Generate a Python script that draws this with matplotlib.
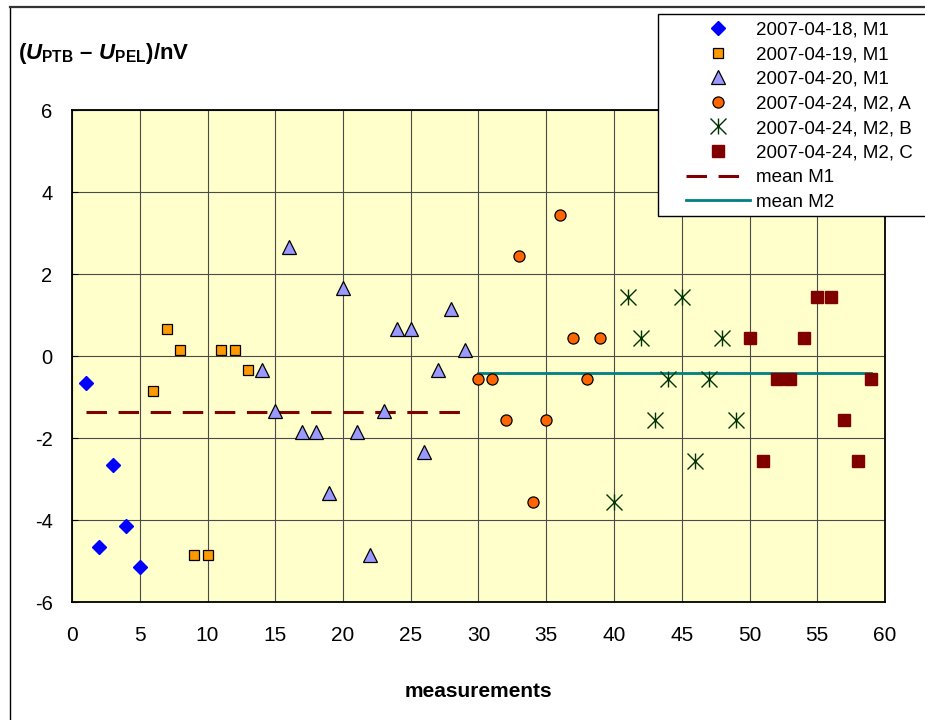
"""Voltage difference PTB vs PEL per measurement, with mean lines."""
import numpy as np
import matplotlib
matplotlib.use("Agg")
import matplotlib.pyplot as plt
from matplotlib.path import Path
from matplotlib.patches import Rectangle
from matplotlib.lines import Line2D

plt.rcParams["font.family"] = ["Liberation Sans", "DejaVu Sans"]
plt.rcParams["axes.unicode_minus"] = False
plt.rcParams["mathtext.fontset"] = "custom"
plt.rcParams["mathtext.rm"] = "Liberation Sans:bold"
plt.rcParams["mathtext.bf"] = "Liberation Sans:bold"
plt.rcParams["mathtext.it"] = "Liberation Sans:italic:bold"

# data (nV)
x_0418 = [1, 2, 3, 4, 5]
y_0418 = [-0.65, -4.65, -2.65, -4.15, -5.15]
x_0419 = [6, 7, 8, 9, 10, 11, 12, 13]
y_0419 = [-0.85, 0.65, 0.15, -4.85, -4.85, 0.15, 0.15, -0.35]
x_0420 = list(range(14, 30))
y_0420 = [-0.35, -1.35, 2.65, -1.85, -1.85, -3.35, 1.65, -1.85,
          -4.85, -1.35, 0.65, 0.65, -2.35, -0.35, 1.15, 0.15]
x_m2a = list(range(30, 40))
y_m2a = [-0.55, -0.55, -1.55, 2.45, -3.55, -1.55, 3.45, 0.45, -0.55, 0.45]
x_m2b = list(range(40, 50))
y_m2b = [-3.55, 1.45, 0.45, -1.55, -0.55, 1.45, -2.55, -0.55, 0.45, -1.55]
x_m2c = list(range(50, 60))
y_m2c = [0.45, -2.55, -0.55, -0.55, 0.45, 1.45, 1.45, -1.55, -2.55, -0.55]

labels = ["2007-04-18, M1", "2007-04-19, M1", "2007-04-20, M1",
          "2007-04-24, M2, A", "2007-04-24, M2, B", "2007-04-24, M2, C"]

x_m1 = x_0418 + x_0419 + x_0420
y_m1 = y_0418 + y_0419 + y_0420
x_m2 = x_m2a + x_m2b + x_m2c
y_m2 = y_m2a + y_m2b + y_m2c
mean_m1 = np.mean(y_m1)
mean_m2 = np.mean(y_m2)

# Excel-like star marker: X plus vertical bar
star = Path([(0, -1), (0, 1), (-1, -1), (1, 1), (-1, 1), (1, -1)],
            [Path.MOVETO, Path.LINETO, Path.MOVETO, Path.LINETO,
             Path.MOVETO, Path.LINETO])

W, H = 925, 720
fig = plt.figure(figsize=(W / 100, H / 100), dpi=100)
ax = fig.add_axes([72 / W, 1 - 602 / H, (885 - 72) / W, (602 - 110) / H])
ax.set_facecolor("#FFFFCC")

ax.plot(x_0418, y_0418, ls="none", marker="D", ms=6.8, mfc="#0000FF",
        mec="#0000FF", label=labels[0], zorder=3)
ax.plot(x_0419, y_0419, ls="none", marker="s", ms=7.8, mfc="#FF9900",
        mec="black", mew=0.9, label=labels[1], zorder=3)
ax.plot(x_0420, y_0420, ls="none", marker="^", ms=10.5, mfc="#9999FF",
        mec="black", mew=0.9, label=labels[2], zorder=3)
ax.plot(x_m2a, y_m2a, ls="none", marker="o", ms=8, mfc="#FF6600",
        mec="black", mew=0.9, label=labels[3], zorder=3)
ax.plot(x_m2b, y_m2b, ls="none", marker=star, ms=11.5, mfc="none",
        mec="#003300", mew=1.0, label=labels[4], zorder=3)
ax.plot(x_m2c, y_m2c, ls="none", marker="s", ms=8, mfc="#800000",
        mec="#800000", label=labels[5], zorder=3)

ax.plot([min(x_m1), max(x_m1)], [mean_m1, mean_m1], color="#800000", lw=2.2,
        dashes=(6.7, 3.8), label="mean M1", zorder=2)
ax.plot([min(x_m2), max(x_m2)], [mean_m2, mean_m2], color="#008080", lw=2.0,
        label="mean M2", zorder=2)

ax.set_xlim(0, 60)
ax.set_ylim(-6, 6)
ax.set_xticks(np.arange(0, 61, 5))
ax.set_yticks(np.arange(-6, 7, 2))
ax.grid(True, color="#4A4A4A", lw=0.8)
ax.set_axisbelow(True)
ax.tick_params(axis="x", length=0, pad=17, labelsize=15)
ax.tick_params(axis="y", direction="in", length=4, pad=14, labelsize=14.5)
for s in ax.spines.values():
    s.set_linewidth(1.3)
    s.set_color("black")

ax.set_xlabel("measurements", fontsize=15, fontweight="bold", labelpad=27)
fig.text(18 / W, 1 - 53 / H,
         r"$(U_{\mathrm{PTB}}\ \endash\ U_{\mathrm{PEL}})/\mathrm{nV}$",
         fontsize=16, ha="left", va="center")

# outer chart frame (left and top edges only visible)
fig.add_artist(Line2D([9.5 / W, 9.5 / W], [0, 1 - 7 / H], color="black", lw=1.0))
fig.add_artist(Line2D([9.5 / W, 1], [1 - 7 / H, 1 - 7 / H], color="#333333", lw=1.6))

# legend box drawn separately so padding can match
fig.add_artist(Rectangle((658 / W, 1 - 216 / H), (W - 658) / W + 0.01, (216 - 14) / H,
                         transform=fig.transFigure, facecolor="white",
                         edgecolor="black", lw=1.0, zorder=4))
handles, labs = ax.get_legend_handles_labels()
leg = fig.legend(handles, labs, loc="upper left",
                 bbox_to_anchor=(677 / W, 1 - 12 / H), frameon=False,
                 fontsize=13.5, handlelength=3.4, handletextpad=0.32,
                 labelspacing=0.40, borderpad=0.0, numpoints=1)
leg.set_zorder(5)

fig.savefig("out.png", dpi=100)
